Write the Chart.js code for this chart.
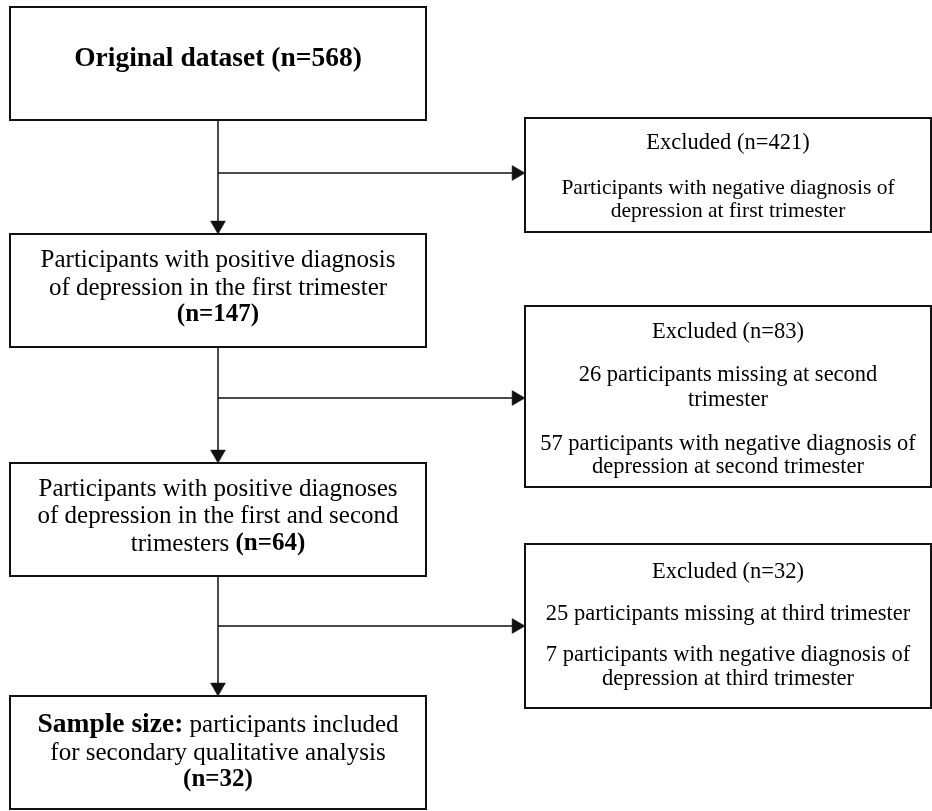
<!DOCTYPE html>
<html>
<head>
<meta charset="utf-8">
<title>Participant flow</title>
<script src="https://cdn.jsdelivr.net/npm/chart.js@4.4.0/dist/chart.umd.min.js"></script>
<style>
    html, body { margin: 0; padding: 0; background: #fff; }
    #flowChart { display: block; }
</style>
</head>
<body>
<canvas id="flowChart" width="932" height="811"></canvas>
<script>
// Counts at each stage of the flow
const stageCounts = [568, 147, 64, 32];
const excludedCounts = [421, 83, 32];
const missingCounts = [null, 26, 25];
const negativeCounts = [421, 57, 7];
const trimesters = ['first', 'second', 'third'];

// Text of the main boxes, as lines of segments (b = bold, s = font size)
const mainText = [
    [[{ t: `Original dataset (n=${stageCounts[0]})`, b: true, s: 27.5 }]],
    [[{ t: 'Participants with positive diagnosis' }],
     [{ t: 'of depression in the first trimester' }],
     [{ t: `(n=${stageCounts[1]})`, b: true }]],
    [[{ t: 'Participants with positive diagnoses' }],
     [{ t: 'of depression in the first and second' }],
     [{ t: 'trimesters ' }, { t: `(n=${stageCounts[2]})`, b: true }]],
    [[{ t: 'Sample size:', b: true, s: 27.5 }, { t: ' participants included' }],
     [{ t: 'for secondary qualitative analysis' }],
     [{ t: `(n=${stageCounts[3]})`, b: true }]]
];

// Text of the excluded boxes
const excludedText = [
    [`Excluded (n=${excludedCounts[0]})`,
     'Participants with negative diagnosis of',
     `depression at ${trimesters[0]} trimester`],
    [`Excluded (n=${excludedCounts[1]})`,
     `${missingCounts[1]} participants missing at ${trimesters[1]}`,
     'trimester',
     `${negativeCounts[1]} participants with negative diagnosis of`,
     `depression at ${trimesters[1]} trimester`],
    [`Excluded (n=${excludedCounts[2]})`,
     `${missingCounts[2]} participants missing at ${trimesters[2]} trimester`,
     `${negativeCounts[2]} participants with negative diagnosis of`,
     `depression at ${trimesters[2]} trimester`]
];

// Layout (page units, 1 unit = 1 px)
const mainX = [10, 426];
const mainY = [[7, 120], [234, 347], [463, 576], [696, 809]];
const mainLineY = [[59], [260, 288, 315], [489, 516, 544], [725, 753, 780]];
const exclX = [525, 931];
const exclY = [[118, 232], [306, 487], [544, 708]];
const exclLineY = [[143, 188, 211], [332, 375, 400, 444, 467], [572, 614, 655, 679]];
const exclFont = [[22.5, 21.5, 21.5], [22.5], [22.5]];
const spineX = 218;
const branchY = [173, 398, 626];
const arrowR = 8.6;

const serif = '"Liberation Serif", "Times New Roman", serif';
const ink = '#111';

// connector lines and arrow heads
const connectorSets = [];
const heads = [];
const headRot = [];
for (let i = 0; i < 3; i++) {
    connectorSets.push({
        data: [{ x: spineX, y: mainY[i][1] }, { x: spineX, y: mainY[i + 1][0] - arrowR }],
        showLine: true, borderColor: ink, borderWidth: 1.5, pointRadius: 0, clip: false
    });
    connectorSets.push({
        data: [{ x: spineX, y: branchY[i] }, { x: exclX[0] - arrowR, y: branchY[i] }],
        showLine: true, borderColor: ink, borderWidth: 1.5, pointRadius: 0, clip: false
    });
    heads.push({ x: spineX, y: mainY[i + 1][0] - arrowR });
    headRot.push(180);
    heads.push({ x: exclX[0] - arrowR, y: branchY[i] });
    headRot.push(90);
}

const boxPlugin = {
    id: 'boxes',
    afterDatasetsDraw(chart) {
        const ctx = chart.ctx;
        const xs = chart.scales.x, ys = chart.scales.y;
        const rect = (x0, x1, y0, y1) => {
            const px0 = xs.getPixelForValue(x0), px1 = xs.getPixelForValue(x1);
            const py0 = ys.getPixelForValue(y0), py1 = ys.getPixelForValue(y1);
            ctx.strokeRect(px0, py0, px1 - px0, py1 - py0);
        };
        ctx.save();
        ctx.strokeStyle = ink;
        ctx.lineWidth = 2;
        mainY.forEach(y => rect(mainX[0], mainX[1], y[0], y[1]));
        exclY.forEach(y => rect(exclX[0], exclX[1], y[0], y[1]));

        ctx.fillStyle = '#000';
        ctx.textBaseline = 'middle';
        ctx.textAlign = 'left';
        const fontOf = seg => (seg.b ? 'bold ' : '') + (seg.s || 25) + 'px ' + serif;

        // main boxes
        const cxMain = xs.getPixelForValue((mainX[0] + mainX[1]) / 2);
        mainText.forEach((lines, i) => {
            lines.forEach((segs, j) => {
                let w = 0;
                segs.forEach(seg => { ctx.font = fontOf(seg); w += ctx.measureText(seg.t).width; });
                let x = cxMain - w / 2;
                const y = ys.getPixelForValue(mainLineY[i][j]);
                segs.forEach(seg => {
                    ctx.font = fontOf(seg);
                    ctx.fillText(seg.t, x, y);
                    x += ctx.measureText(seg.t).width;
                });
            });
        });

        // excluded boxes
        ctx.textAlign = 'center';
        const cxExcl = xs.getPixelForValue((exclX[0] + exclX[1]) / 2);
        excludedText.forEach((lines, i) => {
            lines.forEach((line, j) => {
                const size = exclFont[i][j] || exclFont[i][0];
                ctx.font = size + 'px ' + serif;
                ctx.fillText(line, cxExcl, ys.getPixelForValue(exclLineY[i][j]));
            });
        });
        ctx.restore();
    }
};

new Chart(document.getElementById('flowChart').getContext('2d'), {
    type: 'scatter',
    data: {
        datasets: connectorSets.concat([{
            data: heads,
            pointStyle: 'triangle',
            pointRadius: arrowR,
            pointRotation: headRot,
            backgroundColor: ink,
            borderColor: ink,
            borderWidth: 0.5,
            clip: false
        }])
    },
    options: {
        responsive: false,
        animation: false,
        events: [],
        layout: { padding: 0, autoPadding: false },
        scales: {
            x: { type: 'linear', min: 0, max: 932, display: false },
            y: { type: 'linear', min: 0, max: 811, reverse: true, display: false }
        },
        plugins: {
            legend: { display: false },
            tooltip: { enabled: false }
        }
    },
    plugins: [boxPlugin]
});
</script>
</body>
</html>
